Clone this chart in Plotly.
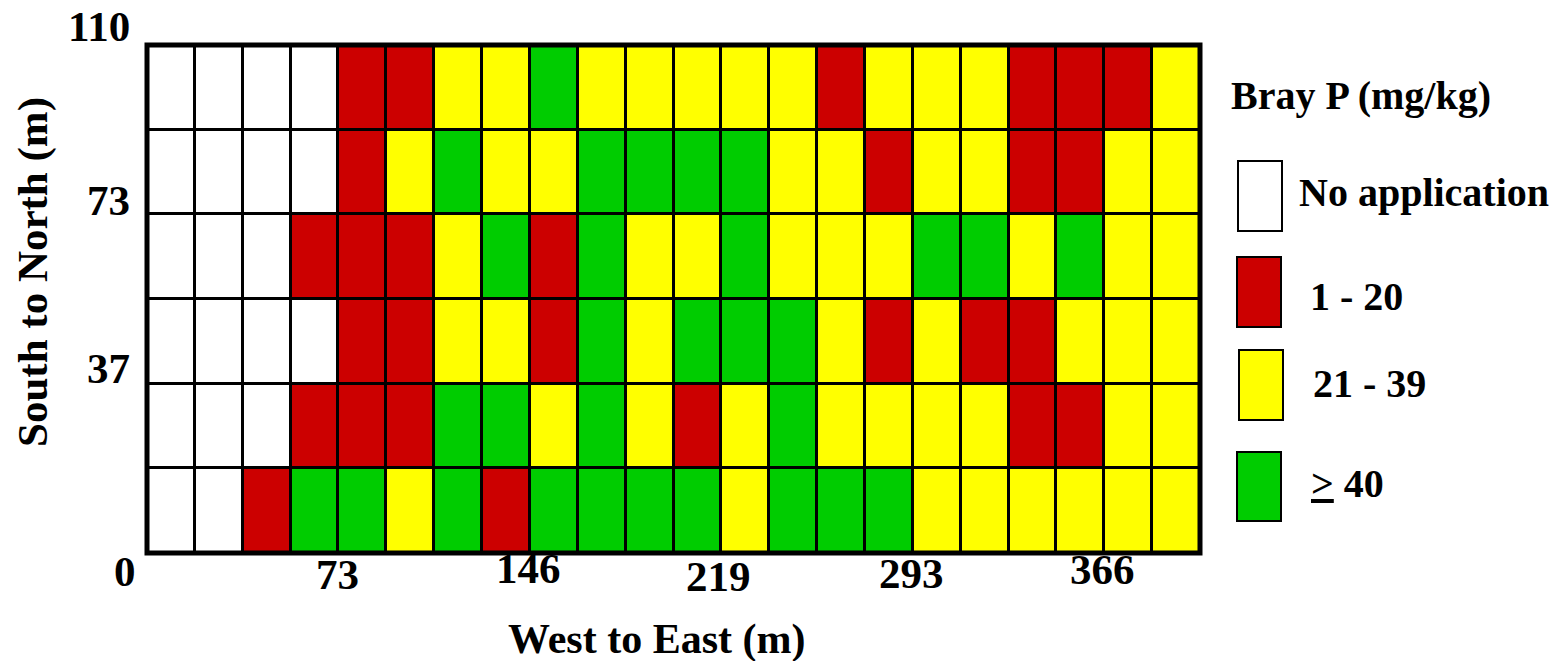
import plotly.graph_objects as go

# ---- data ----
# Bray P class per plot cell; rows listed from south (bottom) to north (top)
# N = no application, R = 1-20, Y = 21-39, G = >=40
row1 = ["N","N","R","G","G","Y","G","R","G","G","G","G","Y","G","G","G","Y","Y","Y","Y","Y","Y"]
row2 = ["N","N","N","R","R","R","G","G","Y","G","Y","R","Y","G","Y","Y","Y","Y","R","R","Y","Y"]
row3 = ["N","N","N","N","R","R","Y","Y","R","G","Y","G","G","G","Y","R","Y","R","R","Y","Y","Y"]
row4 = ["N","N","N","R","R","R","Y","G","R","G","Y","Y","G","Y","Y","Y","G","G","Y","G","Y","Y"]
row5 = ["N","N","N","N","R","Y","G","Y","Y","G","G","G","G","Y","Y","R","Y","Y","R","R","Y","Y"]
row6 = ["N","N","N","N","R","R","Y","Y","G","Y","Y","Y","Y","Y","R","Y","Y","Y","R","R","R","Y"]
rows = [row1, row2, row3, row4, row5, row6]

class_codes = ["N", "R", "Y", "G"]
class_labels = ["No application", "1 - 20", "21 - 39", "<u>&gt;</u> 40"]
class_colors = ["#FFFFFF", "#CC0000", "#FFFF00", "#00CC00"]

field_north_m = 110  # total south-north extent
x_tick_vals = [73, 146, 219, 293, 366]
x_tick_text = ["73", "146", "219", "293", "366"]
y_tick_vals = [37, 73, 110]
y_tick_text = ["37", "73", "110"]

legend_title = "Bray P (mg/kg)"
x_title = "West to East (m)"
y_title = "South to North (m)"

# ---- build ----
ncols = len(row1)
nrows = len(rows)
cell = field_north_m / nrows
x_centers = [(i + 0.5) * cell for i in range(ncols)]
y_centers = [(j + 0.5) * cell for j in range(nrows)]
z = [[class_codes.index(c) for c in r] for r in rows]

n = len(class_codes)
colorscale = []
for k, col in enumerate(class_colors):
    colorscale.append([k / n, col])
    colorscale.append([(k + 1) / n, col])

FONT = "Liberation Serif, Times New Roman, serif"
W, H = 1563, 661
L, R, T, B = 147, 1200, 45, 553  # plot area in page pixels


def px(xp):
    return (xp - L) / (R - L)


def py(yp):
    return (B - yp) / (B - T)


fig = go.Figure()
fig.add_trace(go.Heatmap(
    x=x_centers, y=y_centers, z=z,
    colorscale=colorscale, zmin=-0.5, zmax=n - 0.5,
    showscale=False, xgap=3, ygap=3, hoverinfo="skip",
))

annotations = []
TICK_SIZE = 43
# x tick labels (staggered vertically as in the original)
x_label_yshift = [-21, -15, -23, -20, -16]
for v, t, ys in zip(x_tick_vals, x_tick_text, x_label_yshift):
    annotations.append(dict(x=v, y=0, xref="x", yref="y", text="<b>" + t + "</b>",
                            showarrow=False, yshift=ys, xanchor="center", yanchor="middle",
                            font=dict(family=FONT, size=TICK_SIZE, color="black")))
# origin label
annotations.append(dict(x=0, y=0, xref="x", yref="y", text="<b>0</b>", showarrow=False,
                        xshift=-22, yshift=-18, xanchor="center", yanchor="middle",
                        font=dict(family=FONT, size=TICK_SIZE, color="black")))
# y tick labels
y_label_yshift = [14, 15, 19]
for v, t, ys in zip(y_tick_vals, y_tick_text, y_label_yshift):
    annotations.append(dict(x=0, y=v, xref="x", yref="y", text="<b>" + t + "</b>",
                            showarrow=False, xshift=-15, yshift=ys, xanchor="right", yanchor="middle",
                            font=dict(family=FONT, size=TICK_SIZE, color="black")))
# axis titles
annotations.append(dict(x=px(656), y=py(639), xref="paper", yref="paper",
                        text="<b>" + x_title + "</b>", showarrow=False,
                        xanchor="center", yanchor="middle",
                        font=dict(family=FONT, size=42, color="black")))
annotations.append(dict(x=px(33), y=py(272), xref="paper", yref="paper",
                        text="<b>" + y_title + "</b>", showarrow=False, textangle=-90,
                        xanchor="center", yanchor="middle",
                        font=dict(family=FONT, size=43, color="black")))
# legend title
annotations.append(dict(x=px(1229), y=py(95), xref="paper", yref="paper",
                        text="<b>" + legend_title + "</b>", showarrow=False,
                        xanchor="left", yanchor="middle",
                        font=dict(family=FONT, size=40, color="black")))

shapes = []
box_pos = [(1238, 161, 1282, 231), (1237, 257, 1281, 327), (1239, 350, 1283, 420), (1237, 452, 1281, 521)]
label_pos = [(1297, 192), (1308, 296), (1311, 384), (1309, 483)]
for (x0, y0, x1, y1), (lx, ly), col, lab in zip(box_pos, label_pos, class_colors, class_labels):
    shapes.append(dict(type="rect", xref="paper", yref="paper",
                       x0=px(x0), x1=px(x1), y0=py(y1), y1=py(y0),
                       fillcolor=col, line=dict(color="black", width=2)))
    annotations.append(dict(x=px(lx), y=py(ly), xref="paper", yref="paper",
                            text="<b>" + lab + "</b>", showarrow=False,
                            xanchor="left", yanchor="middle",
                            font=dict(family=FONT, size=40, color="black")))

# thick frame around the field
shapes.append(dict(type="rect", xref="paper", yref="paper", x0=0, x1=1, y0=0, y1=1,
                   line=dict(color="black", width=5), fillcolor="rgba(0,0,0,0)"))

fig.update_layout(
    width=W, height=H,
    margin=dict(l=L, r=W - R, t=T, b=H - B, pad=0),
    paper_bgcolor="white", plot_bgcolor="black",
    showlegend=False,
    xaxis=dict(range=[0, ncols * cell], showgrid=False, zeroline=False,
               showticklabels=False, ticks="", fixedrange=True),
    yaxis=dict(range=[0, nrows * cell], showgrid=False, zeroline=False,
               showticklabels=False, ticks="", fixedrange=True),
    annotations=annotations, shapes=shapes,
)

fig.write_html("out.html",
               config={"displayModeBar": False},
               post_script="document.body.style.margin='0';document.body.style.overflow='hidden';")
